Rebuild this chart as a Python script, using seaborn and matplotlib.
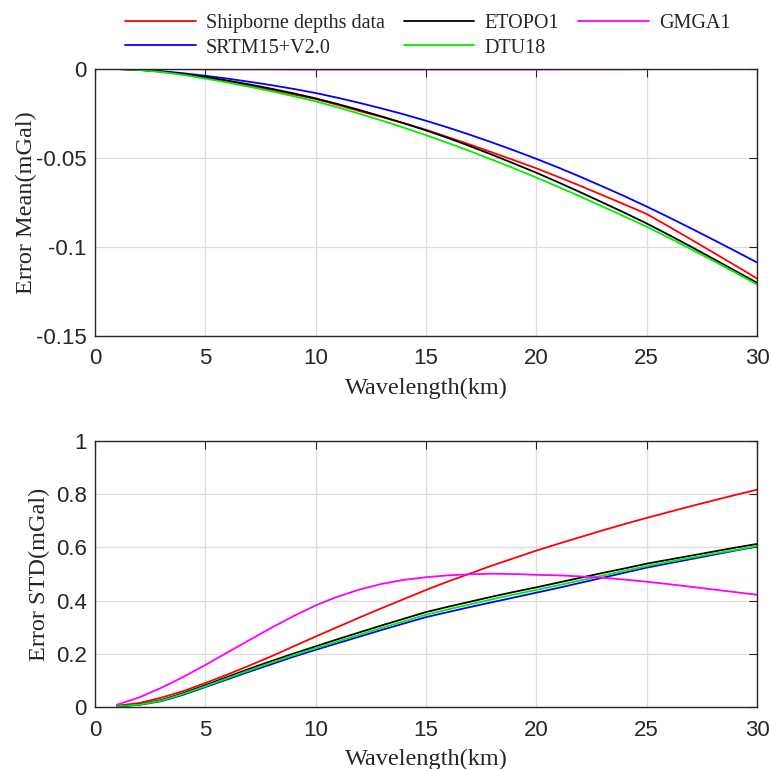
import numpy as np
import pandas as pd
import matplotlib
matplotlib.use("Agg")
import matplotlib.pyplot as plt
import matplotlib.transforms as mtransforms
import seaborn as sns

# wavelength (km)
wavelength = list(range(1, 31))

# error mean (mGal)
mean_ship = [0, -0.0005, -0.0015, -0.0031, -0.0050, -0.0071, -0.0094, -0.0118, -0.0143, -0.0169,
             -0.0202, -0.0237, -0.0270, -0.0305, -0.0342, -0.0383, -0.0425, -0.0469, -0.0513, -0.0558,
             -0.0607, -0.0657, -0.0709, -0.0761, -0.0815, -0.0885, -0.0957, -0.1030, -0.1103, -0.1177]
mean_srtm = [0, -0.0004, -0.0012, -0.0024, -0.0038, -0.0054, -0.0072, -0.0091, -0.0112, -0.0135,
             -0.0162, -0.0191, -0.0222, -0.0255, -0.0291, -0.0329, -0.0370, -0.0413, -0.0458, -0.0505,
             -0.0554, -0.0606, -0.0660, -0.0715, -0.0773, -0.0833, -0.0895, -0.0958, -0.1022, -0.1087]
mean_etopo = [0, -0.0005, -0.0014, -0.0028, -0.0045, -0.0065, -0.0087, -0.0111, -0.0137, -0.0165,
              -0.0197, -0.0231, -0.0267, -0.0305, -0.0345, -0.0388, -0.0434, -0.0482, -0.0532, -0.0583,
              -0.0637, -0.0693, -0.0750, -0.0808, -0.0868, -0.0932, -0.0998, -0.1065, -0.1133, -0.1201]
mean_dtu = [0, -0.0006, -0.0017, -0.0033, -0.0054, -0.0076, -0.0100, -0.0126, -0.0153, -0.0182,
            -0.0216, -0.0252, -0.0290, -0.0330, -0.0372, -0.0416, -0.0462, -0.0510, -0.0559, -0.0610,
            -0.0663, -0.0717, -0.0773, -0.0829, -0.0886, -0.0948, -0.1012, -0.1077, -0.1143, -0.1211]
mean_gmga = [0, -0.0001, -0.0001, -0.0001, -0.0002, -0.0002, -0.0002, -0.0002, -0.0003, -0.0003,
             -0.0003, -0.0003, -0.0003, -0.0003, -0.0003, -0.0003, -0.0003, -0.0003, -0.0003, -0.0003,
             -0.0002, -0.0002, -0.0002, -0.0002, -0.0001, -0.0001, -0.0001, -0.0001, 0, 0]

# error std (mGal)
std_ship = [0.005, 0.015, 0.035, 0.060, 0.090, 0.122, 0.156, 0.191, 0.228, 0.265,
            0.301, 0.337, 0.372, 0.406, 0.440, 0.472, 0.502, 0.532, 0.560, 0.588,
            0.614, 0.639, 0.664, 0.688, 0.711, 0.733, 0.755, 0.776, 0.797, 0.817]
std_srtm = [0.002, 0.008, 0.022, 0.046, 0.075, 0.104, 0.133, 0.161, 0.189, 0.215,
            0.240, 0.265, 0.290, 0.314, 0.338, 0.357, 0.376, 0.394, 0.412, 0.430,
            0.448, 0.467, 0.486, 0.505, 0.524, 0.540, 0.556, 0.572, 0.588, 0.603]
std_etopo = [0.003, 0.010, 0.026, 0.052, 0.082, 0.113, 0.144, 0.173, 0.201, 0.228,
             0.255, 0.281, 0.307, 0.332, 0.357, 0.377, 0.396, 0.415, 0.433, 0.450,
             0.468, 0.486, 0.504, 0.521, 0.539, 0.554, 0.569, 0.584, 0.599, 0.613]
std_dtu = [0.003, 0.009, 0.024, 0.049, 0.078, 0.108, 0.138, 0.167, 0.195, 0.221,
           0.247, 0.272, 0.298, 0.322, 0.347, 0.367, 0.386, 0.405, 0.423, 0.440,
           0.458, 0.476, 0.494, 0.512, 0.530, 0.546, 0.561, 0.576, 0.590, 0.605]
std_gmga = [0.009, 0.036, 0.072, 0.113, 0.158, 0.205, 0.252, 0.298, 0.342, 0.382,
            0.415, 0.442, 0.463, 0.478, 0.488, 0.495, 0.499, 0.501, 0.500, 0.497,
            0.495, 0.491, 0.486, 0.479, 0.471, 0.462, 0.452, 0.442, 0.432, 0.422]

models = ["Shipborne depths data", "SRTM15+V2.0", "ETOPO1", "DTU18", "GMGA1"]
colors = ["#ff0000", "#0000ff", "#000000", "#00ee00", "#ff00ff"]

mean_df = pd.DataFrame({"Wavelength": wavelength * 5,
                        "value": mean_ship + mean_srtm + mean_etopo + mean_dtu + mean_gmga,
                        "model": [m for m in models for _ in wavelength]})
std_df = pd.DataFrame({"Wavelength": wavelength * 5,
                       "value": std_ship + std_srtm + std_etopo + std_dtu + std_gmga,
                       "model": [m for m in models for _ in wavelength]})

sns.set_style("white")
plt.rcParams["font.family"] = ["Liberation Serif", "DejaVu Serif"]

fig = plt.figure(figsize=(7.71, 7.69), dpi=100)
ax1 = fig.add_axes([0.1232, 0.5631, 0.8587, 0.3472])
ax2 = fig.add_axes([0.1232, 0.0806, 0.8587, 0.3459])

pal = dict(zip(models, colors))
sns.lineplot(data=mean_df, x="Wavelength", y="value", hue="model", hue_order=models,
             palette=pal, linewidth=1.3, ax=ax1, legend=True)
sns.lineplot(data=std_df, x="Wavelength", y="value", hue="model", hue_order=models,
             palette=pal, linewidth=1.3, ax=ax2, legend=False)

handles, labels = ax1.get_legend_handles_labels()
ax1.get_legend().remove()

tick_font = {"family": "Liberation Sans", "size": 16}
shift = mtransforms.ScaledTranslation(0, -4 / 100, fig.dpi_scale_trans)
for ax, ylab, ylim, yticks, yticklabels, ylx in [
        (ax1, "Error Mean(mGal)", (-0.15, 0), [-0.15, -0.1, -0.05, 0], ["-0.15", "-0.1", "-0.05", "0"], -0.0876),
        (ax2, "Error STD(mGal)", (0, 1), [0, 0.2, 0.4, 0.6, 0.8, 1], ["0", "0.2", "0.4", "0.6", "0.8", "1"], -0.068)]:
    ax.set_xlim(0, 30)
    ax.set_ylim(*ylim)
    ax.set_xticks([0, 5, 10, 15, 20, 25, 30])
    ax.set_xticklabels(["0", "5", "10", "15", "20", "25", "30"], fontdict=tick_font)
    ax.set_yticks(yticks)
    ax.set_yticklabels(yticklabels, fontdict=tick_font)
    for lab in ax.get_yticklabels():
        lab.set_transform(lab.get_transform() + shift)
    ax.set_xlabel("Wavelength(km)", fontsize=17.5, labelpad=6)
    ax.set_ylabel(ylab, fontsize=17.5)
    ax.yaxis.set_label_coords(ylx, 0.5)
    ax.grid(True, color="#dcdcdc", linewidth=0.9)
    ax.tick_params(direction="in", length=6, width=0.8, top=True, right=True, colors="#262626")
    ax.tick_params(axis="x", pad=9)
    ax.tick_params(axis="y", pad=6)
    for s in ax.spines.values():
        s.set_color("#262626")
        s.set_linewidth(1.0)
        s.set_visible(True)

fig.legend(handles, labels, loc="upper left", bbox_to_anchor=(0.139, 1.005), ncol=3,
           frameon=False, fontsize=14.5, handlelength=3.5, handletextpad=0.5,
           columnspacing=0.95, labelspacing=0.25)

fig.savefig("out.png", dpi=100)
